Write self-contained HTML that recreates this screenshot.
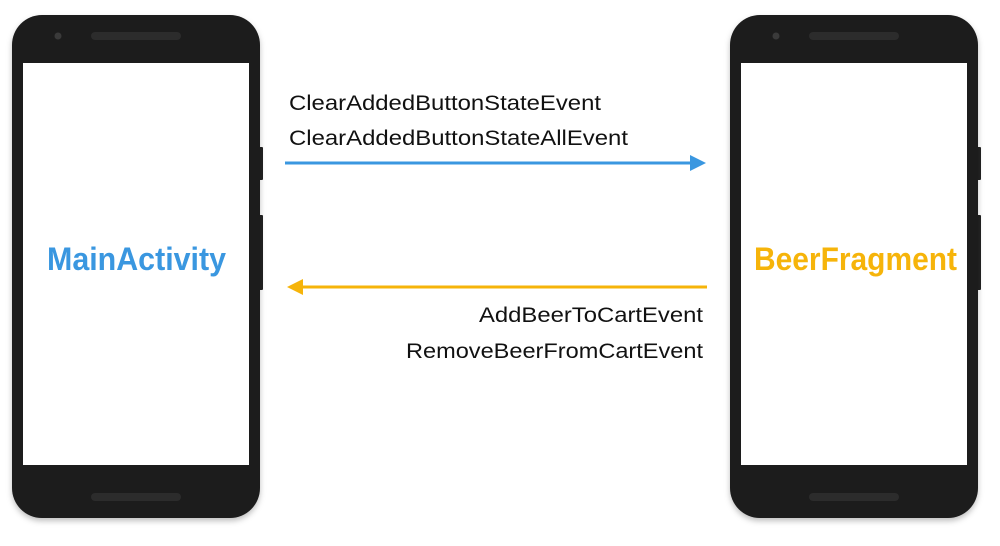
<!DOCTYPE html>
<html><head><style>body{margin:0;background:#fff;width:1000px;height:541px;overflow:hidden}</style></head>
<body>
<svg width="1000" height="541" viewBox="0 0 1000 541" xmlns="http://www.w3.org/2000/svg">
<defs>
<filter id="sh" x="-10%" y="-10%" width="120%" height="120%"><feDropShadow dx="0" dy="3" stdDeviation="3" flood-color="#000" flood-opacity="0.25"/></filter>
</defs>
<g id="p1">
<rect x="259" y="147" width="4" height="33" rx="1" fill="#222"/>
<rect x="259" y="215" width="4" height="75" rx="1" fill="#222"/>
<rect x="12" y="15" width="248" height="503" rx="30" fill="#1b1b1b" filter="url(#sh)"/>
<rect x="23" y="63" width="226" height="402" fill="#fff"/>
<circle cx="58" cy="36" r="3.5" fill="#3a3a3a"/>
<rect x="91" y="32" width="90" height="8" rx="4" fill="#2c2c2c"/>
<rect x="91" y="493" width="90" height="8" rx="4" fill="#2c2c2c"/>
</g>
<g>
<rect x="977" y="147" width="4" height="33" rx="1" fill="#222"/>
<rect x="977" y="215" width="4" height="75" rx="1" fill="#222"/>
<rect x="730" y="15" width="248" height="503" rx="30" fill="#1b1b1b" filter="url(#sh)"/>
<rect x="741" y="63" width="226" height="402" fill="#fff"/>
<circle cx="776" cy="36" r="3.5" fill="#3a3a3a"/>
<rect x="809" y="32" width="90" height="8" rx="4" fill="#2c2c2c"/>
<rect x="809" y="493" width="90" height="8" rx="4" fill="#2c2c2c"/>
</g>
<text x="47" y="270" font-family="Liberation Sans, sans-serif" font-weight="bold" font-size="32" fill="#3a97e0" textLength="179" lengthAdjust="spacingAndGlyphs">MainActivity</text>
<text x="754" y="270" font-family="Liberation Sans, sans-serif" font-weight="bold" font-size="32" fill="#f6b40a" textLength="203" lengthAdjust="spacingAndGlyphs">BeerFragment</text>
<g font-family="Liberation Sans, sans-serif" font-size="21" fill="#111">
<text x="289" y="110" textLength="312" lengthAdjust="spacingAndGlyphs">ClearAddedButtonStateEvent</text>
<text x="289" y="145" textLength="339" lengthAdjust="spacingAndGlyphs">ClearAddedButtonStateAllEvent</text>
<text x="479" y="322" textLength="224" lengthAdjust="spacingAndGlyphs">AddBeerToCartEvent</text>
<text x="406" y="358" textLength="297" lengthAdjust="spacingAndGlyphs">RemoveBeerFromCartEvent</text>
</g>
<line x1="285" y1="163" x2="692" y2="163" stroke="#3a97e0" stroke-width="3"/>
<polygon points="706,163 690,155 690,171" fill="#3a97e0"/>
<line x1="300" y1="287" x2="707" y2="287" stroke="#f6b40a" stroke-width="3"/>
<polygon points="287,287 303,279 303,295" fill="#f6b40a"/>
</svg>
</body></html>
